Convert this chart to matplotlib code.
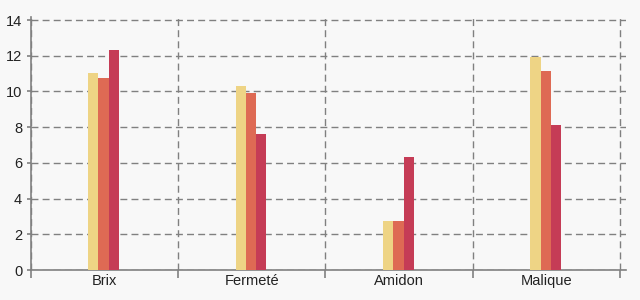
import matplotlib.pyplot as plt
import numpy as np

categories = ["Brix", "Fermeté", "Amidon", "Malique"]
serie_a = [11.03, 10.3, 2.76, 11.93]
serie_b = [10.75, 9.91, 2.76, 11.14]
serie_c = [12.32, 7.61, 6.34, 8.12]
y_ticks = [0, 2, 4, 6, 8, 10, 12, 14]

colors = ["#EED485", "#DE6A54", "#C53C56"]
grid_color = "#808080"
bg = "#f8f8f8"

plt.rcParams["font.family"] = ["Liberation Sans", "DejaVu Sans"]

fig = plt.figure(figsize=(6.4, 3.0), dpi=100, facecolor=bg)
ax = fig.add_axes([30.5 / 640, 30 / 300, (626 - 30.5) / 640, (270 - 17) / 300])
ax.set_facecolor(bg)

x = np.arange(len(categories))
w = 0.07
for off, vals, c in zip([-w, 0, w], [serie_a, serie_b, serie_c], colors):
    ax.bar(x + off - 0.004, vals, width=w, color=c, linewidth=0, zorder=3)

ax.set_xlim(-0.5, 3.54)
ax.set_ylim(0, 14.17)
ax.set_yticks(y_ticks)
ax.set_xticks(x)
ax.set_xticklabels(categories)
ax.set_xticks(np.arange(-0.5, 3.6, 1.0), minor=True)

ax.grid(axis="y", which="major", color=grid_color, linestyle=(0, (5, 3)), linewidth=1.0, zorder=1)
ax.grid(axis="x", which="minor", color=grid_color, linestyle=(0, (5, 3)), linewidth=1.0, zorder=1)
ax.grid(axis="x", which="major", visible=False)

for s in ["top", "right"]:
    ax.spines[s].set_visible(False)
for s in ["left", "bottom"]:
    ax.spines[s].set_color(grid_color)
    ax.spines[s].set_linewidth(1.2)

ax.tick_params(axis="y", length=3, width=1.2, color=grid_color, labelsize=10.5, labelcolor="#222222", pad=3)
ax.tick_params(axis="x", which="major", length=0, labelsize=10.5, labelcolor="#222222", pad=3)
ax.tick_params(axis="x", which="minor", length=6, width=1.2, color=grid_color)

fig.savefig("out.png", dpi=100, facecolor=bg)
